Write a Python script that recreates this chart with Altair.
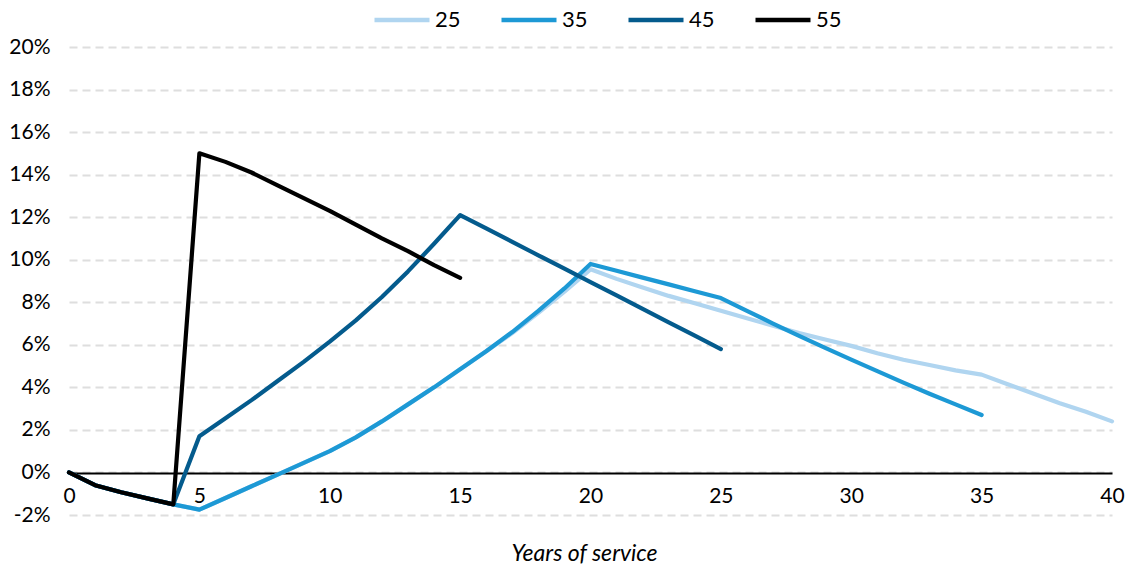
import altair as alt
import pandas as pd

# Projected change by years of service, one series per entry age
common = [0.0, -0.6, -0.93, -1.22, -1.5]

years_25 = list(range(0, 41))
vals_25 = common + [-1.75, -1.2, -0.65, -0.1, 0.45, 1.0, 1.65, 2.4, 3.2, 4.0, 4.85,
                    5.7, 6.55, 7.5, 8.5, 9.55, 9.1, 8.7, 8.3, 7.95, 7.6,
                    7.25, 6.9, 6.55, 6.25, 5.95, 5.6, 5.3, 5.05, 4.8, 4.6,
                    4.15, 3.7, 3.25, 2.85, 2.4]

years_35 = list(range(0, 36))
vals_35 = common + [-1.75, -1.2, -0.65, -0.1, 0.45, 1.0, 1.65, 2.4, 3.2, 4.0, 4.85,
                    5.7, 6.6, 7.6, 8.65, 9.8, 9.48, 9.16, 8.84, 8.52, 8.2,
                    7.6, 7.0, 6.42, 5.86, 5.3, 4.76, 4.22, 3.7, 3.2, 2.7]

years_45 = list(range(0, 26))
vals_45 = common + [1.7, 2.55, 3.4, 4.3, 5.2, 6.15, 7.15, 8.25, 9.45, 10.75, 12.1,
                    11.47, 10.84, 10.21, 9.58, 8.95, 8.32, 7.69, 7.06, 6.43, 5.8]

years_55 = list(range(0, 16))
vals_55 = common + [15.0, 14.6, 14.1, 13.5, 12.9, 12.3, 11.65, 11.0, 10.4, 9.75, 9.15]

series = ["25", "35", "45", "55"]
colors = ["#b0d5f0", "#1d99d5", "#045b8d", "#000000"]

rows = []
for name, xs, ys in [("25", years_25, vals_25), ("35", years_35, vals_35),
                     ("45", years_45, vals_45), ("55", years_55, vals_55)]:
    for x, y in zip(xs, ys):
        rows.append({"age": name, "years": x, "value": y, "ord": series.index(name)})
df = pd.DataFrame(rows)

FONT = "Lato"

lines = alt.Chart(df).mark_line(strokeWidth=4.2, strokeCap="round", strokeJoin="round").encode(
    x=alt.X("years:Q",
            scale=alt.Scale(domain=[0, 40], nice=False),
            axis=alt.Axis(values=list(range(0, 41, 5)), title="Years of service",
                          titleFontStyle="italic", titleFontWeight="normal",
                          titleFontSize=23, titleFont=FONT, titleColor="#000000",
                          titlePadding=36, titleX=515,
                          labelFont=FONT, labelFontSize=21, labelColor="#000000",
                          labelPadding=12, labelFlush=False, ticks=False, grid=False,
                          domainColor="#000000", domainWidth=2, offset=-42)),
    y=alt.Y("value:Q",
            scale=alt.Scale(domain=[-2, 20], nice=False, zero=False),
            axis=alt.Axis(values=list(range(-2, 21, 2)), title=None,
                          labelExpr="datum.value + '%'",
                          labelFont=FONT, labelFontSize=21, labelColor="#000000",
                          labelPadding=19, ticks=False, domain=False,
                          grid=True, gridColor="#dedede", gridWidth=2,
                          gridDash=[8, 5])),
    color=alt.Color("age:N", scale=alt.Scale(domain=series, range=colors),
                    legend=alt.Legend(title=None, orient="none", direction="horizontal",
                                      legendX=303, legendY=-57,
                                      symbolType="stroke", symbolSize=3025,
                                      symbolStrokeWidth=4.5, labelFont=FONT,
                                      labelFontSize=22, labelColor="#000000",
                                      labelOffset=3, columnPadding=31)),
    order=alt.Order("ord:Q"),
    detail="age:N",
)

chart = lines.properties(
    width=1043, height=468,
    padding={"left": 69, "top": 47, "right": 21, "bottom": 52},
    autosize=alt.AutoSizeParams(type="none"),
    background="#ffffff",
).configure_view(stroke=None)

chart.save("out.html", embed_options={"renderer": "svg", "actions": False})
